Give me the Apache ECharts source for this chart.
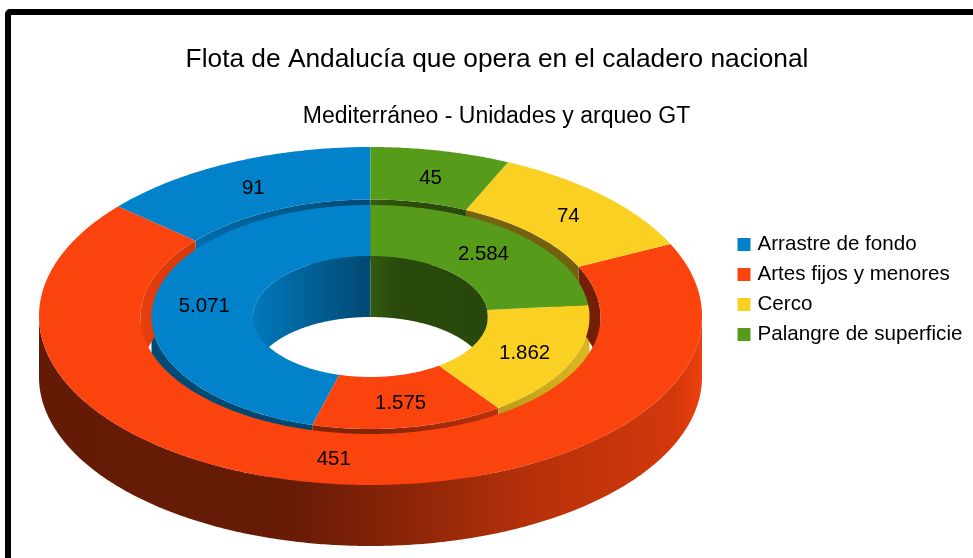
<!DOCTYPE html>
<html lang="es">

<head>
    <meta charset="UTF-8">
    <title>Flota de Andalucía que opera en el caladero nacional</title>
    <script src="https://cdn.jsdelivr.net/npm/echarts@6/dist/echarts.min.js"></script>
    <style>
        body {
            margin: 0;
            background-color: #fff;
        }

        #root {
            width: 973px;
            height: 558px;
        }
    </style>
</head>

<body>

    <div id="root"></div>
    <script>

        var categories = ['Arrastre de fondo', 'Artes fijos y menores', 'Cerco', 'Palangre de superficie'];
        var unidades = [91, 451, 74, 45];
        var arqueo = [5071, 1575, 1862, 2584];
        var arqueoLabels = ['5.071', '1.575', '1.862', '2.584'];
        var colors = [[1, 130, 203], [251, 67, 14], [250, 208, 34], [87, 155, 27]];

        // ellipse geometry of the two rings, angles run from 12 o'clock against the clock
        var cx = 370.5, depth = 61;
        var outerRing = { rx: 331.5, ry: 169, cy: 316, holeRx: 230, holeRy: 117.25, holeCy: 316.75 };
        var innerRing = { rx: 219, ry: 112, cy: 317, holeRx: 117.5, holeRy: 60.5, holeCy: 316.5 };

        // brightness of the side walls, left to right
        var outsideShade = [[0, .4], [.38, .41], [.55, .55], [.75, .73], [.96, .84], [1, .95]];
        var insideShade = [[0, .92], [.47, .58], [.5, .6], [.6, .48], [1, .46]];
        var innerWallShade = [[0, .58], [.5, .52], [.8, .75], [1, .88]];

        function rows(values) {
            var total = values.reduce(function (a, b) { return a + b; }, 0);
            var start = 0;
            return values.map(function (v, i) {
                var end = start + v / total * 360;
                var row = [v, start, end, i];
                start = end;
                return row;
            });
        }

        function arc(rx, ry, centerY, from, to, dy) {
            var pts = [];
            var n = Math.max(2, Math.ceil(Math.abs(to - from) * 2));
            for (var i = 0; i <= n; i++) {
                var t = (from + (to - from) * i / n) * Math.PI / 180;
                pts.push([cx - rx * Math.sin(t), centerY - ry * Math.cos(t) + (dy || 0)]);
            }
            return pts;
        }

        function shadeFill(colorIndex, rx, shade) {
            var c = colors[colorIndex];
            return new echarts.graphic.LinearGradient(cx - rx, 0, cx + rx, 0, shade.map(function (s) {
                return {
                    offset: s[0],
                    color: 'rgb(' + Math.round(c[0] * s[1]) + ',' + Math.round(c[1] * s[1]) + ',' + Math.round(c[2] * s[1]) + ')'
                };
            }), true);
        }

        function layer(data, z, render) {
            return {
                type: 'custom',
                coordinateSystem: 'none',
                silent: true,
                animation: false,
                z: z,
                data: data,
                renderItem: function (params, api) {
                    return render(api.value(1), api.value(2), api.value(3), params.dataIndex);
                }
            };
        }

        // slice top face
        function topFace(ring) {
            return function (a, b, c) {
                return {
                    type: 'polygon',
                    shape: { points: arc(ring.rx, ring.ry, ring.cy, a, b).concat(arc(ring.holeRx, ring.holeRy, ring.holeCy, b, a)) },
                    style: { fill: 'rgb(' + colors[c].join(',') + ')' }
                };
            };
        }

        // wall of an ellipse, cut to the angle ranges that can be seen
        function wall(rx, ry, centerY, ranges, shade) {
            return function (a, b, c) {
                var children = [];
                ranges.forEach(function (r) {
                    var from = Math.max(a, r[0]), to = Math.min(b, r[1]);
                    if (to <= from) return;
                    children.push({
                        type: 'polygon',
                        shape: { points: arc(rx, ry, centerY, from, to).concat(arc(rx, ry, centerY, to, from, depth)) },
                        style: { fill: shadeFill(c, rx, shade) }
                    });
                });
                return { type: 'group', children: children };
            };
        }

        function labels(ring, texts) {
            return function (a, b, c, i) {
                var mid = (a + b) / 2 * Math.PI / 180;
                var rx = (ring.rx + ring.holeRx) / 2, ry = (ring.ry + ring.holeRy) / 2;
                return {
                    type: 'text',
                    style: {
                        x: cx - rx * Math.sin(mid) + .5,
                        y: (ring.cy + ring.holeCy) / 2 - ry * Math.cos(mid) + 1.5,
                        text: String(texts[i]),
                        font: '20.4px "Liberation Sans"',
                        fill: '#000',
                        align: 'center',
                        verticalAlign: 'middle'
                    }
                };
            };
        }

        var farSide = [[0, 90], [270, 360]];
        var nearSide = [[90, 270]];
        var outerRows = rows(unidades);
        var innerRows = rows(arqueo);

        var legendSeries = categories.map(function (name, i) {
            return {
                type: 'custom',
                name: name,
                coordinateSystem: 'none',
                itemStyle: { color: 'rgb(' + colors[i].join(',') + ')' },
                data: [],
                renderItem: function () { return null; }
            };
        });

        var mychart = echarts.init(document.getElementById('root'));

        mychart.setOption({
            backgroundColor: '#fff',
            animation: false,
            title: [{
                text: 'Flota de Andalucía que opera en el caladero nacional',
                left: 492,
                top: 42,
                textAlign: 'center',
                textStyle: { fontFamily: 'Liberation Sans', fontSize: 26.3, fontWeight: 'normal', color: '#000' }
            }, {
                text: 'Mediterráneo - Unidades y arqueo GT',
                left: 491.5,
                top: 100,
                textAlign: 'center',
                textStyle: { fontFamily: 'Liberation Sans', fontSize: 23, fontWeight: 'normal', color: '#000' }
            }],
            legend: {
                orient: 'vertical',
                left: 732.5,
                top: 229,
                itemWidth: 13,
                itemHeight: 13,
                itemGap: 9,
                icon: 'rect',
                selectedMode: false,
                textStyle: { fontFamily: 'Liberation Sans', fontSize: 20.6, color: '#000', padding: [0, 0, 0, 2] },
                data: categories
            },
            graphic: [{
                type: 'rect',
                z: -1,
                shape: { x: 8, y: 12, width: 1000, height: 700, r: 2 },
                style: { fill: '#fff', stroke: '#000', lineWidth: 6 }
            }],
            series: legendSeries.concat([
                // inner near wall goes first, the outer ring hides what it overlaps
                layer(innerRows, 1, wall(innerRing.rx, innerRing.ry, innerRing.cy, nearSide, innerWallShade)),
                layer(outerRows, 2, wall(outerRing.rx, outerRing.ry, outerRing.cy, nearSide, outsideShade)),
                layer(outerRows, 3, wall(outerRing.holeRx, outerRing.holeRy, outerRing.holeCy, farSide, insideShade)),
                layer(innerRows, 4, wall(innerRing.holeRx, innerRing.holeRy, innerRing.holeCy, farSide, insideShade)),
                layer(innerRows, 6, topFace(innerRing)),
                layer(outerRows, 7, topFace(outerRing)),
                layer(innerRows, 8, labels(innerRing, arqueoLabels)),
                layer(outerRows, 8, labels(outerRing, unidades))
            ])
        });

    </script>

</body>

</html>
